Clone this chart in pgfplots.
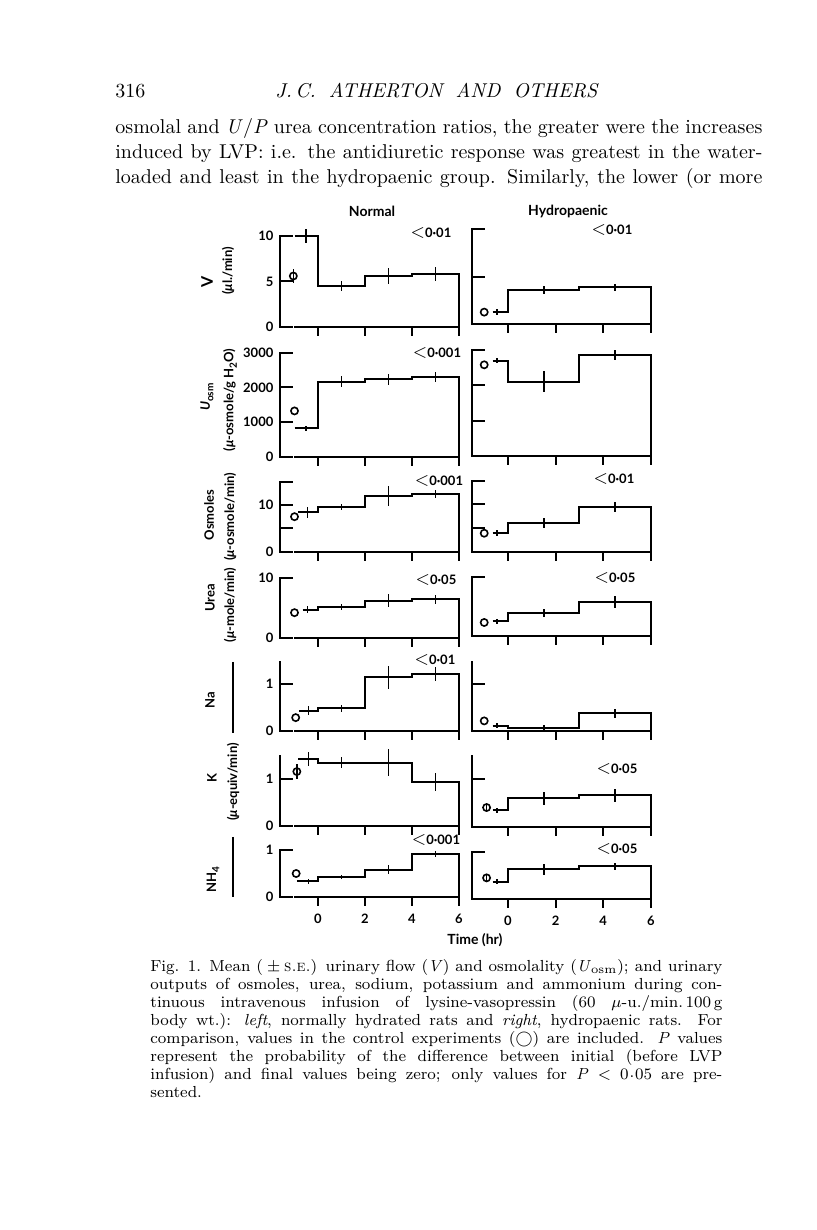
\documentclass[border=0pt]{standalone}
\usepackage{pgfplots}
\pgfplotsset{compat=1.18}
\usepackage{fontspec}
\newfontfamily\figfont{Lato}
\newcommand\ff{\figfont\bfseries\fontsize{6.5}{7}\selectfont}
\tikzset{axl/.style={line width=1pt,line cap=rect},
  page/.style={x=0.5pt,y=-0.5pt,yshift=615pt}}  % pixel coordinates of the scan
\pgfplotsset{
  panel/.style={
    scale only axis, anchor=south west, clip=false,
    axis y line*=left, axis x line*=bottom,
    x axis line style={draw=none},
    y axis line style={line width=1pt},
    xtick style={draw=none}, ytick style={draw=none},
    xmax=6, ymin=0, xtick=\empty,
    ticklabel style={font=\ff},
    xticklabel style={yshift=-5pt},
  },
  normal/.style={panel, xmin=-1.6, width=89.3pt},
  hydro/.style={panel, xmin=-1.5, width=89.25pt, ytick=\empty},
  bottomrow/.style={xtick={0,2,4,6}, xticklabels={0,2,4,6}},
  step/.style={const plot mark left, line width=1pt, mark=none, black},
  ebar/.style={draw=none, mark=none, error bars/.cd, y dir=both, y explicit,
    error mark=none, error bar style={line width=0.8pt, black}},
  ctrl/.style={only marks, mark=o, mark size=1.8pt, black,
    mark options={line width=0.8pt},
    error bars/.cd, y dir=both, y explicit, error mark=none,
    error bar style={line width=0.8pt, black}},
}
\newcommand\yt[2]{\pgfplotsinvokeforeach{#2}{\draw[axl] (axis cs:#1,##1) -- ++(6pt,0pt);}}
\newcommand\xaxis{\draw[axl] (axis cs:-1,0) -- (axis cs:6,0);
  \pgfplotsinvokeforeach{0,2,4,6}{\draw[axl] (axis cs:##1,0) -- ++(0pt,-4pt);}}
\newcommand\pv[3]{\node[font=\ff] at (#1,#2) {{\fontsize{9}{9}\selectfont$<$}#3};}
\newcommand\bl[2]{\node at (115,#1) {\makebox[323.5pt][s]{#2}};}
\newcommand\cl[2]{\node at (150,#1) {\makebox[286pt][s]{#2}};}
\newcommand\cd{\kern0.05em\raisebox{0.3ex}{.}\kern0.05em}
\begin{document}
\begin{tikzpicture}
\useasboundingbox[fill=white] (0,0) rectangle (408pt,615pt);

\begin{scope}[page]
% ---------- page text ----------
\node[anchor=base west,inner sep=0pt,font=\fontsize{10}{12}\selectfont] at (115,98) {316};
\node[anchor=base west,inner sep=0pt,font=\itshape\fontsize{10}{12}\selectfont] at (275,98) {\makebox[161pt][s]{J.\,C. ATHERTON AND OTHERS}};
\begin{scope}[every node/.style={anchor=base west,inner sep=0pt,font=\fontsize{10}{12.5}\selectfont}]
\bl{134}{osmolal and \textit{U}/\textit{P} urea concentration ratios, the greater were the increases}
\bl{159}{induced by LVP: i.e. the antidiuretic response was greatest in the water-}
\bl{184}{loaded and least in the hydropaenic group. Similarly, the lower (or more}
\end{scope}
\begin{scope}[every node/.style={anchor=base west,inner sep=0pt,font=\fontsize{8}{9}\selectfont}]
\cl{972}{Fig. 1. Mean (${}\pm{}$\textsc{s.e.}) urinary flow (\textit{V}) and osmolality (\textit{U}\textsubscript{osm}); and urinary}
\cl{990}{outputs of osmoles, urea, sodium, potassium and ammonium during con-}
\cl{1008}{tinuous intravenous infusion of lysine-vasopressin (60 $\mu$-u./min.\,100\,g}
\cl{1026}{body wt.): \textit{left}, normally hydrated rats and \textit{right}, hydropaenic rats. For}
\cl{1044}{comparison, values in the control experiments ($\bigcirc$) are included. \textit{P} values}
\cl{1062}{represent the probability of the difference between initial (before LVP}
\cl{1080}{infusion) and final values being zero; only values for \textit{P} $<$ 0\cd05 are pre-}
\node at (150,1098) {sented.};
\end{scope}

% ---------- column titles ----------
\node[font=\figfont\bfseries\fontsize{7}{8}\selectfont] at (372,211) {Normal};
\node[font=\figfont\bfseries\fontsize{7}{8}\selectfont] at (568,211) {Hydropaenic};
\node[font=\figfont\bfseries\fontsize{7}{8}\selectfont] at (475,940) {Time (hr)};

% ---------- y labels ----------
\begin{scope}[every node/.style={rotate=90,font=\ff}]
\node[font=\figfont\bfseries\fontsize{8}{9}\selectfont] at (207,282) {V};
\node at (228,271) {(\textit{μ}l./min)};
\node at (207,397) {\textit{U}\raisebox{-0.5ex}{\fontsize{5}{6}\selectfont osm}};
\node at (230,400) {(\textit{μ}-osmole/g H\raisebox{-0.5ex}{\fontsize{5}{6}\selectfont 2}O)};
\node at (209,515) {Osmoles};
\node at (230,517) {(\textit{μ}-osmole/min)};
\node at (210,598) {Urea};
\node at (230,605) {(\textit{μ}-mole/min)};
\node at (210,700) {Na};
\node at (212,778) {K};
\node at (213,880) {NH\raisebox{-0.5ex}{\fontsize{5}{6}\selectfont 4}};
\node at (233,782) {(\textit{μ}-equiv/min)};
\end{scope}
\draw[line width=0.8pt] (233,662) -- (233,733);
\draw[line width=0.8pt] (233,837) -- (233,897);

% ---------- P values ----------
\pv{431}{233}{0·01}
\pv{612}{230}{0·01}
\pv{437}{353}{0·001}
\pv{439}{481}{0·001}
\pv{614}{479}{0·01}
\pv{436}{580}{0·05}
\pv{615}{578}{0·05}
\pv{435}{660}{0·01}
\pv{617}{769}{0·05}
\pv{436}{840}{0·001}
\pv{617}{849}{0·05}
\end{scope}

% ================= NORMAL =================
% V
\begin{axis}[normal, at={(140.2pt,451.5pt)}, height=45.5pt, ymax=10,
  ytick={0,5,10}, yticklabels={0,5,10}]
\addplot[step] coordinates {(-1,10.0) (0,4.5) (2,5.6) (4,5.8) (6,0)};
\addplot[ebar] coordinates {(-0.5,10.0) +- (0,0.8) (1,4.5) +- (0,0.6) (3,5.6) +- (0,0.9) (5,5.8) +- (0,0.75)};
\addplot[ctrl] coordinates {(-1.05,5.6) +- (0,0.8)};
\yt{-1.6}{0,5,10}\xaxis
\end{axis}
% Uosm
\begin{axis}[normal, at={(140.2pt,386.65pt)}, height=52pt, ymax=3000,
  ytick={0,1000,2000,3000}, yticklabels={0,1000,2000,3000}]
\addplot[step] coordinates {(-1,820) (0,2160) (2,2230) (4,2290) (6,0)};
\addplot[ebar] coordinates {(-0.5,820) +- (0,70) (1,2160) +- (0,160) (3,2230) +- (0,150) (5,2290) +- (0,140)};
\addplot[ctrl] coordinates {(-1,1320) +- (0,0)};
\yt{-1.6}{0,1000,2000,3000}\xaxis
\end{axis}
% Osmoles
\begin{axis}[normal, at={(140.2pt,339.15pt)}, height=35pt, ymax=15,
  ytick={0,10}, yticklabels={0,10}]
\addplot[step] coordinates {(-0.85,8.4) (0,9.6) (2,11.9) (4,12.3) (6,0)};
\addplot[ebar] coordinates {(-0.45,8.4) +- (0,1.2) (1,9.6) +- (0,0.6) (3,11.9) +- (0,2.2) (5,12.3) +- (0,0.9)};
\addplot[ctrl] coordinates {(-1,7.5) +- (0,0)};
\yt{-1.6}{0,5,10,15}\xaxis
\end{axis}
% Urea
\begin{axis}[normal, at={(140.2pt,296pt)}, height=30.15pt, ymax=10,
  ytick={0,10}, yticklabels={0,10}]
\addplot[step] coordinates {(-0.65,4.7) (0,5.2) (2,6.2) (4,6.4) (6,0)};
\addplot[ebar] coordinates {(-0.45,4.7) +- (0,0.6) (1,5.2) +- (0,0.5) (3,6.2) +- (0,1.1) (5,6.4) +- (0,0.7)};
\addplot[ctrl] coordinates {(-1,4.2) +- (0,0)};
\yt{-1.6}{0,10}\xaxis
\end{axis}
% Na
\begin{axis}[normal, at={(140.2pt,249.65pt)}, height=35pt, ymax=1.5,
  ytick={0,1}, yticklabels={0,1}]
\addplot[step] coordinates {(-0.8,0.43) (0,0.48) (2,1.14) (4,1.22) (6,0)};
\addplot[ebar] coordinates {(-0.4,0.43) +- (0,0.1) (1,0.48) +- (0,0.07) (3,1.14) +- (0,0.25) (5,1.22) +- (0,0.15)};
\addplot[ctrl] coordinates {(-0.95,0.28) +- (0,0)};
\yt{-1.6}{0,1}\xaxis
\end{axis}
% K
\begin{axis}[normal, at={(140.2pt,202pt)}, height=35.5pt, ymax=1.5,
  ytick={0,1}, yticklabels={0,1}]
\addplot[step] coordinates {(-0.85,1.41) (0,1.34) (2,1.34) (4,0.93) (6,0)};
\addplot[ebar] coordinates {(-0.4,1.41) +- (0,0.15) (1,1.34) +- (0,0.12) (3,1.34) +- (0,0.28) (5,0.93) +- (0,0.2)};
\addplot[ctrl] coordinates {(-0.9,1.15) +- (0,0.15)};
\yt{-1.6}{0,1}\xaxis
\end{axis}
% NH4
\begin{axis}[normal, bottomrow, at={(140.2pt,166.5pt)}, height=23.5pt, ymax=1,
  ytick={0,1}, yticklabels={0,1}]
\addplot[step] coordinates {(-0.9,0.33) (0,0.42) (2,0.58) (4,0.91) (6,0)};
\addplot[ebar] coordinates {(-0.4,0.33) +- (0,0.05) (1,0.42) +- (0,0.04) (3,0.58) +- (0,0.1) (5,0.91) +- (0,0.06)};
\addplot[ctrl] coordinates {(-0.93,0.5) +- (0,0)};
\yt{-1.6}{0,1}\xaxis
\end{axis}

% ================= HYDROPAENIC =================
% V
\begin{axis}[hydro, at={(236.15pt,452.75pt)}, height=47.5pt, ymax=10]
\addplot[step] coordinates {(-0.65,1.35) (0,3.6) (3,3.9) (6,0)};
\addplot[ebar] coordinates {(-0.45,1.35) +- (0,0.3) (1.5,3.6) +- (0,0.4) (4.5,3.9) +- (0,0.4)};
\addplot[ctrl] coordinates {(-1,1.3) +- (0,0)};
\yt{-1.5}{0,5,10}\xaxis
\end{axis}
% Uosm
\begin{axis}[hydro, at={(236.15pt,387pt)}, height=53pt, ymax=3000]
\addplot[step] coordinates {(-0.65,2700) (0,2100) (3,2860) (6,0)};
\addplot[ebar] coordinates {(-0.45,2700) +- (0,60) (1.5,2100) +- (0,300) (4.5,2860) +- (0,150)};
\addplot[ctrl] coordinates {(-1,2580) +- (0,0)};
\yt{-1.5}{0,1000,2000,3000}\xaxis
\end{axis}
% Osmoles
\begin{axis}[hydro, at={(236.15pt,339.15pt)}, height=35.5pt, ymax=15]
\addplot[step] coordinates {(-0.65,3.9) (0,6.1) (3,9.4) (6,0)};
\addplot[ebar] coordinates {(-0.45,3.9) +- (0,0.6) (1.5,6.1) +- (0,1.1) (4.5,9.4) +- (0,1.1)};
\addplot[ctrl] coordinates {(-1,3.9) +- (0,0)};
\yt{-1.5}{0,5,10,15}\xaxis
\end{axis}
% Urea
\begin{axis}[hydro, at={(236.15pt,297pt)}, height=29.35pt, ymax=10]
\addplot[step] coordinates {(-0.65,2.5) (0,3.9) (3,5.85) (6,0)};
\addplot[ebar] coordinates {(-0.45,2.5) +- (0,0.4) (1.5,3.9) +- (0,0.7) (4.5,5.85) +- (0,1.0)};
\addplot[ctrl] coordinates {(-1,2.3) +- (0,0)};
\yt{-1.5}{0,10}\xaxis
\end{axis}
% Na
\begin{axis}[hydro, at={(236.15pt,249.65pt)}, height=35pt, ymax=1.5]
\addplot[step] coordinates {(-0.65,0.11) (0,0.065) (3,0.37) (6,0)};
\addplot[ebar] coordinates {(-0.45,0.11) +- (0,0.05) (1.5,0.065) +- (0,0.05) (4.5,0.37) +- (0,0.1)};
\addplot[ctrl] coordinates {(-1,0.21) +- (0,0)};
\yt{-1.5}{0,1}\xaxis
\end{axis}
% K
\begin{axis}[hydro, at={(236.15pt,201.35pt)}, height=36.15pt, ymax=1.5]
\addplot[step] coordinates {(-0.65,0.35) (0,0.6) (3,0.66) (6,0)};
\addplot[ebar] coordinates {(-0.45,0.35) +- (0,0.05) (1.5,0.6) +- (0,0.13) (4.5,0.66) +- (0,0.13)};
\addplot[ctrl] coordinates {(-0.9,0.41) +- (0,0.08)};
\yt{-1.5}{0,1}\xaxis
\end{axis}
% NH4
\begin{axis}[hydro, bottomrow, at={(236.15pt,165.35pt)}, height=23.8pt, ymax=1]
\addplot[step] coordinates {(-0.65,0.37) (0,0.63) (3,0.69) (6,0)};
\addplot[ebar] coordinates {(-0.45,0.37) +- (0,0.05) (1.5,0.63) +- (0,0.12) (4.5,0.69) +- (0,0.08)};
\addplot[ctrl] coordinates {(-0.9,0.45) +- (0,0.08)};
\yt{-1.5}{0,1}\xaxis
\end{axis}
\end{tikzpicture}
\end{document}
